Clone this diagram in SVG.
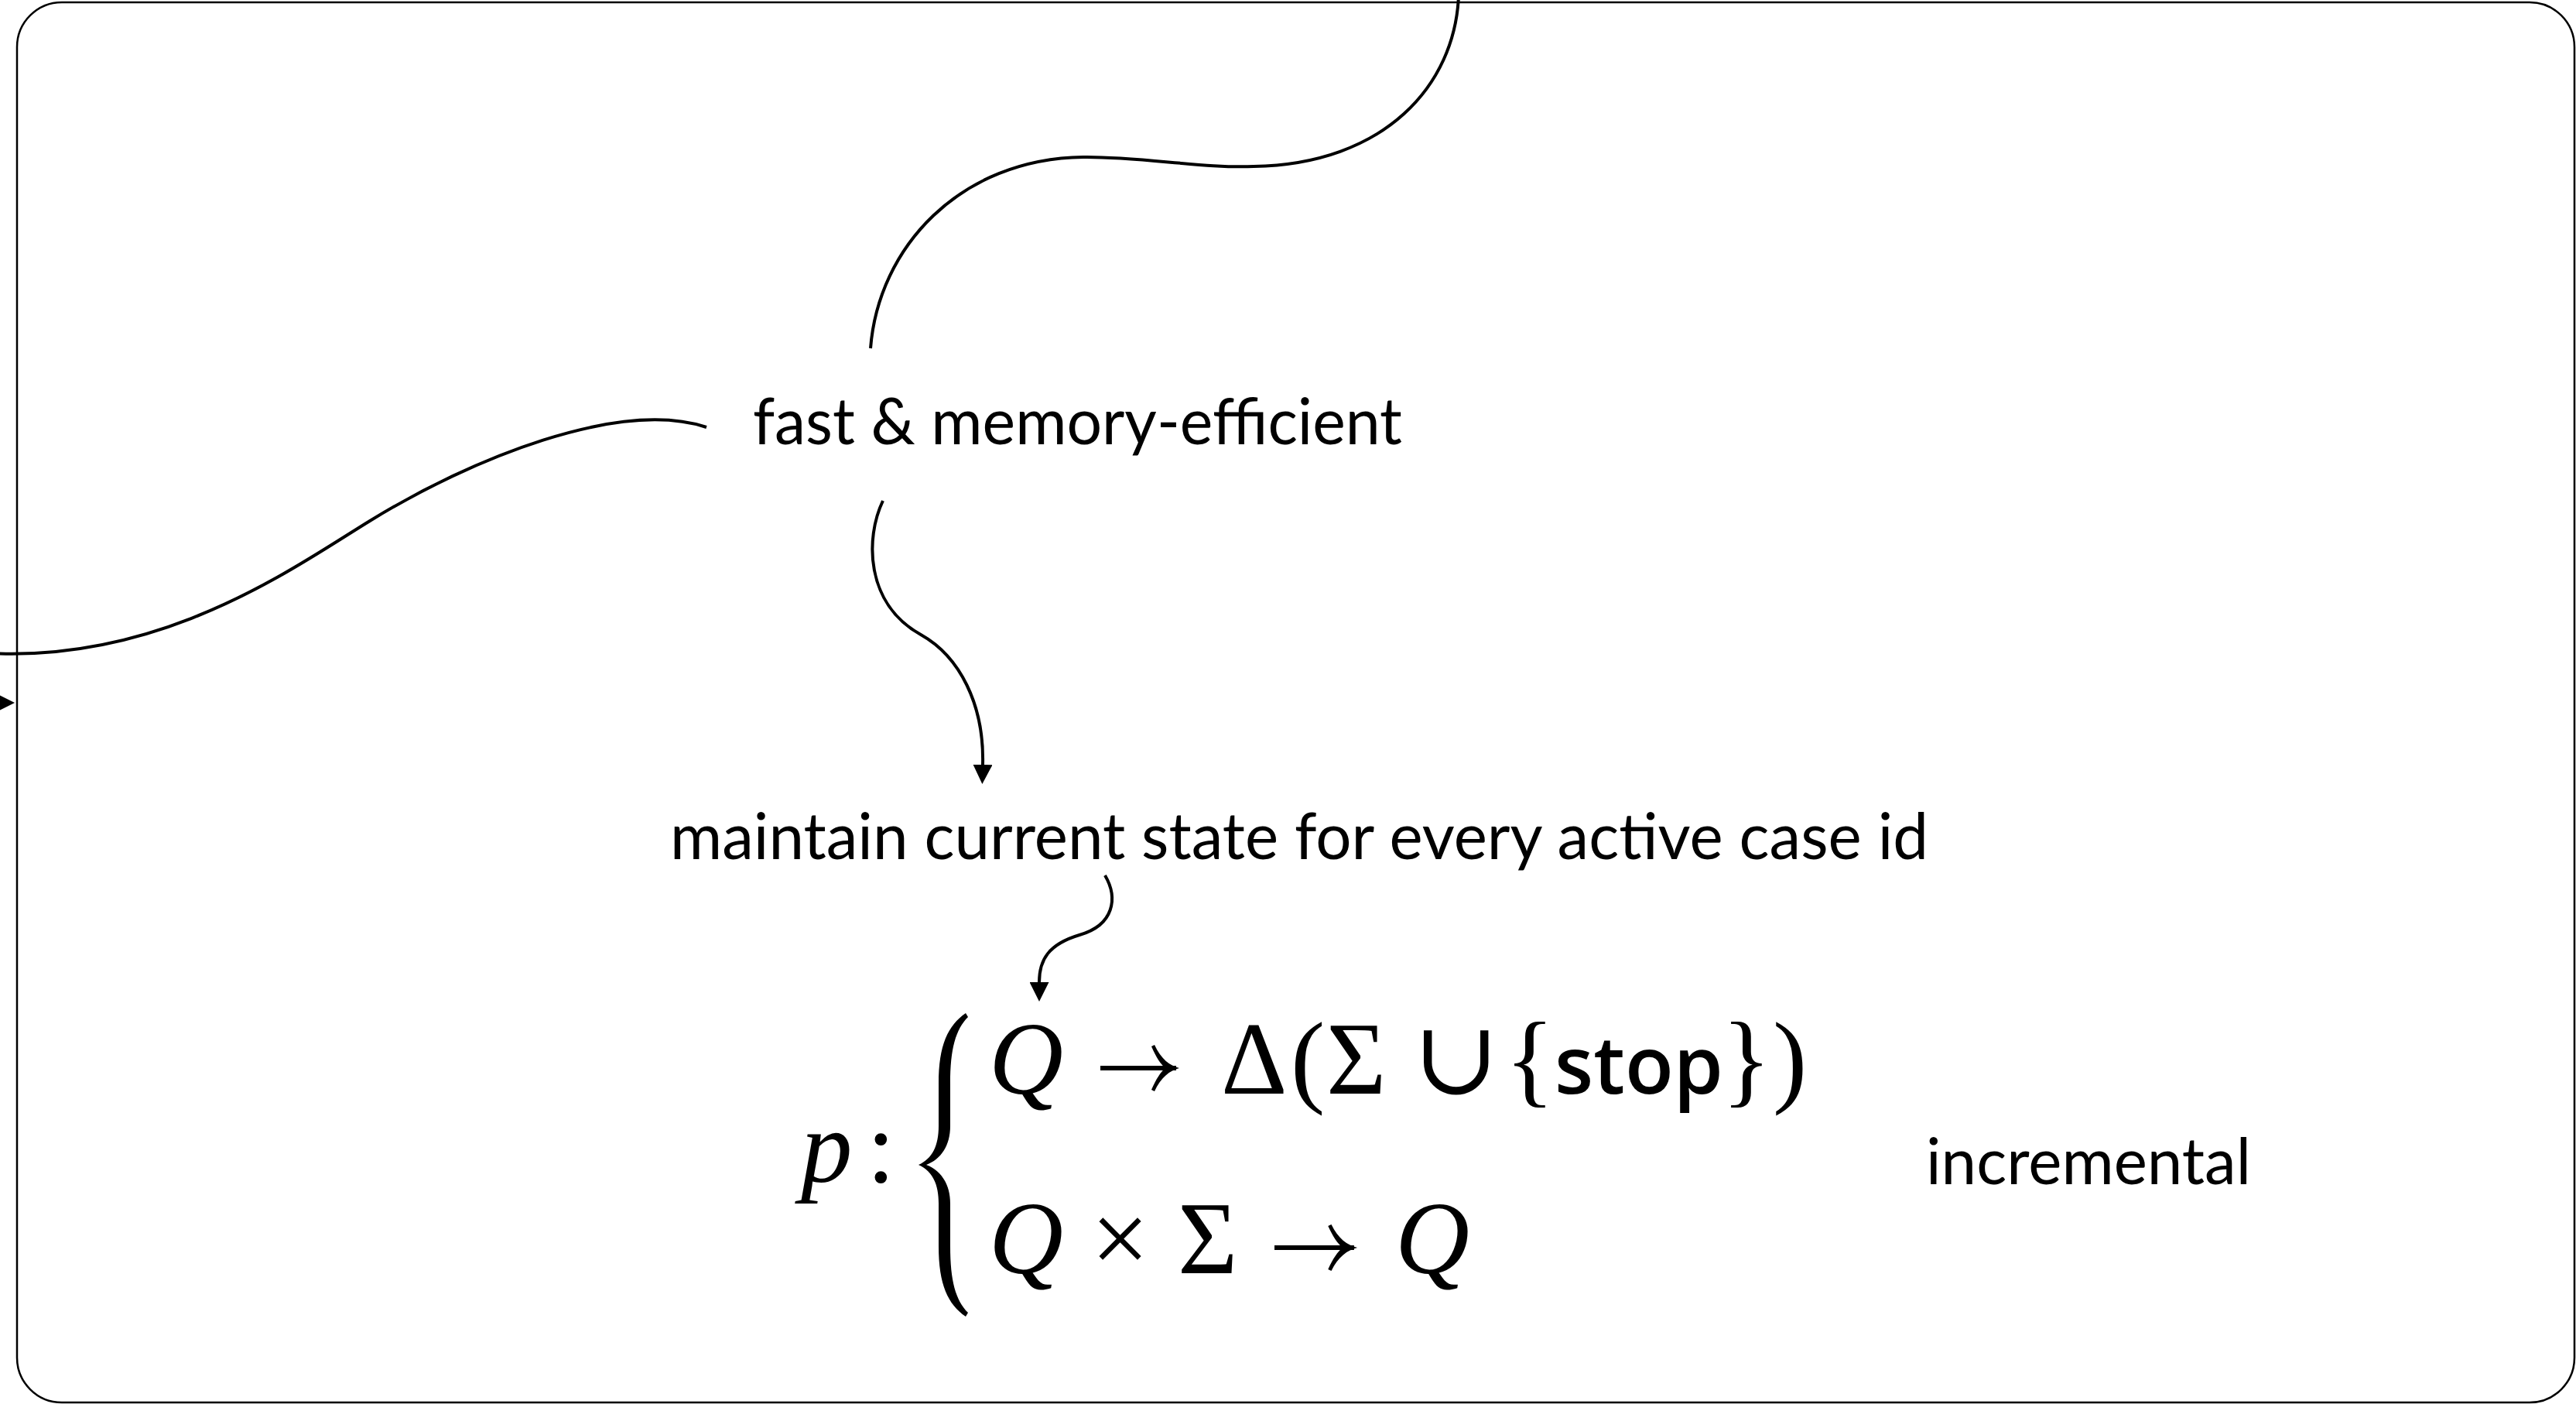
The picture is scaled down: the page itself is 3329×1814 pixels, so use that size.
<svg xmlns="http://www.w3.org/2000/svg" width="3329" height="1814" viewBox="0 0 3329 1814">
  <style>
    .lbl { font-family: "Lato", "Noto Sans", "Liberation Sans", sans-serif; font-size: 84px; fill: #000; }
    .math { font-family: "Liberation Serif", "DejaVu Serif", serif; font-size: 133px; fill: #000; }
    .it { font-style: italic; }
    .sans { font-family: "Open Sans", "Lato", "Liberation Sans", sans-serif; font-weight: 600; font-size: 103px; font-style: normal; }
    .conn { fill: none; stroke: #000; stroke-width: 4; stroke-linecap: butt; }
    .frame { fill: none; stroke: #000; stroke-width: 2.5; }
    .arr { fill: none; stroke: #000; stroke-width: 6; stroke-linecap: butt; }
  </style>
  <defs>
    <marker id="ah" markerUnits="userSpaceOnUse" markerWidth="25" markerHeight="25" viewBox="0 0 25 25" refX="0" refY="12.5" orient="auto">
      <path d="M0,0 L25,12.5 L0,25 Z" fill="#000"/>
    </marker>
    <g id="mathArrow">
      <path class="arr" d="M 0 0 L 98 0"/>
      <path d="M 70 -30 C 78 -12, 90 -3, 102 0 C 90 3, 78 12, 70 30 L 66 28 C 72 14, 78 5, 84 0 C 78 -5, 72 -14, 66 -28 Z" fill="#000"/>
    </g>
  </defs>
  <rect width="3329" height="1814" fill="#fff"/>

  <g id="frame">
    <rect class="frame" x="22" y="3" width="3305" height="1809" rx="58" ry="58"/>
  </g>

  <g id="connectors">
    <path class="conn" d="M 1125 450 C 1135 320, 1240 205, 1400 203 C 1470 202, 1560 218, 1620 215 C 1790 212, 1880 110, 1885 -5"/>
    <path class="conn" d="M 913 552 C 800 515, 608 593, 478 673 C 380 733, 200 865, -40 842"/>
    <path class="conn" d="M 1141 647 C 1118 695, 1118 780, 1190 820 C 1240 848, 1272 910, 1270 988" marker-end="url(#ah)"/>
    <path class="conn" d="M 1428 1131 C 1445 1160, 1440 1195, 1395 1208 C 1355 1220, 1343 1240, 1343 1269" marker-end="url(#ah)"/>
    <path class="conn" d="M -60 908 L -6 908" marker-end="url(#ah)"/>
  </g>

  <g id="node-fast">
    <text class="lbl" x="973" y="574" textLength="839" lengthAdjust="spacingAndGlyphs">fast &amp; memory-efficient</text>
  </g>

  <g id="node-maintain">
    <text class="lbl" x="866" y="1110" textLength="1626" lengthAdjust="spacingAndGlyphs">maintain current state for every active case id</text>
  </g>

  <g id="node-formula">
    <text class="math" y="1527"><tspan class="it" x="1035">p</tspan><tspan x="1120">:</tspan></text>
    <path d="M 1248 1309 C 1225 1325, 1213 1350, 1213 1400 L 1213 1455 C 1213 1480, 1205 1497, 1187 1505 C 1205 1513, 1213 1530, 1213 1555 L 1213 1610 C 1213 1660, 1225 1685, 1248 1701 L 1251 1696 C 1235 1680, 1228 1655, 1228 1610 L 1228 1555 C 1228 1530, 1216 1512, 1197 1505 C 1216 1498, 1228 1480, 1228 1455 L 1228 1400 C 1228 1355, 1235 1330, 1251 1314 Z" fill="#000"/>
    <text class="math" y="1413"><tspan class="it" x="1278">Q</tspan><tspan x="1578">Δ</tspan><tspan x="1668">(</tspan><tspan x="1714">Σ</tspan><tspan x="1826">∪</tspan><tspan x="1945">{</tspan><tspan class="sans" x="2009">stop</tspan><tspan x="2225">}</tspan><tspan x="2291">)</tspan></text>
    <use href="#mathArrow" transform="translate(1422,1380)"/>
    <text class="math" y="1645"><tspan class="it" x="1278">Q</tspan><tspan x="1410">×</tspan><tspan x="1522">Σ</tspan><tspan class="it" x="1803">Q</tspan></text>
    <use href="#mathArrow" transform="translate(1647,1612) scale(1.05,1)"/>
  </g>

  <g id="node-incremental">
    <text class="lbl" x="2489" y="1530" textLength="420" lengthAdjust="spacingAndGlyphs">incremental</text>
  </g>
</svg>
